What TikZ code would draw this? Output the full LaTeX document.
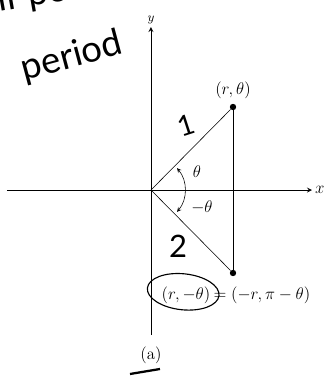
\documentclass[tikz,border=0pt]{standalone}
\usepackage{amsmath,amssymb}
\usepackage{fontspec}
\usepackage{tikz}
\usetikzlibrary{arrows,positioning,calc}
\newfontfamily\handfont{Lato}

\begin{document}
\begin{tikzpicture}[x=0.025cm, y=0.025cm, >=stealth,
    axis/.style={->, semithick},
    dot/.style={circle, fill=black, inner sep=0pt, minimum size=0.16cm},
    lbl/.style={font=\large, inner sep=1pt},
    hand/.style={font=\handfont\fontsize{26}{28}\selectfont, inner sep=0pt},
]
    \useasboundingbox (-151,-187) rectangle (178,190);
    % Axes
    \coordinate (O) at (0,0);
    \coordinate (xl) at (-144,0);
    \coordinate (xr) at (161,0);
    \coordinate (yb) at (0,-145);
    \coordinate (yt) at (0,163);
    \draw[axis] (xl) -- (xr) node[right, font=\large\itshape, inner sep=2pt] {$x$};
    \draw[axis] (yb) -- (yt) node[above, font=\small, inner sep=2pt] {$y$};
    % Points
    \node[dot] (P) at (82,83) {};
    \node[dot] (Q) at (82,-83) {};
    \draw (O) -- (P);
    \draw (O) -- (Q);
    \draw (P) -- (Q);
    % Angles
    \draw[<->] (-40:34) arc[start angle=-40, end angle=40, radius=34];
    \node[lbl] (th) at (46,18) {$\theta$};
    \node[lbl] (mth) at (51,-17) {$-\theta$};
    % Labels
    \node[lbl, above=2pt of P] (pl) {$(r,\theta)$};
    \node[lbl] (neg) at (35,-105) {$(r,-\theta)$};
    \node[lbl, right=0pt of neg] (eq) {$=(-r,\pi-\theta)$};
    \node[lbl] (cap) at (0,-165) {(a)};
    % Handwritten notes
    \coordinate (ell) at ([xshift=-0.07cm, yshift=0.08cm]neg.center);
    \draw[thick, rotate around={-6:(ell)}] (ell) ellipse[x radius=36, y radius=18];
    \coordinate (ul) at (-21,-184);
    \coordinate (ur) at (9,-179);
    \draw[line width=1.6pt] (ul) -- (ur);
    \node[hand, rotate=15] (per) at (-79,133) {period};
    \node[hand, rotate=10, anchor=base west] (ifpo) at (-152,178) {if po};
    \node[hand, font=\handfont\fontsize{20}{22}\selectfont, rotate=18] (one) at (35,65) {1};
    \node[hand, font=\handfont\fontsize{22}{24}\selectfont] (two) at (27,-56) {2};
\end{tikzpicture}
\end{document}
